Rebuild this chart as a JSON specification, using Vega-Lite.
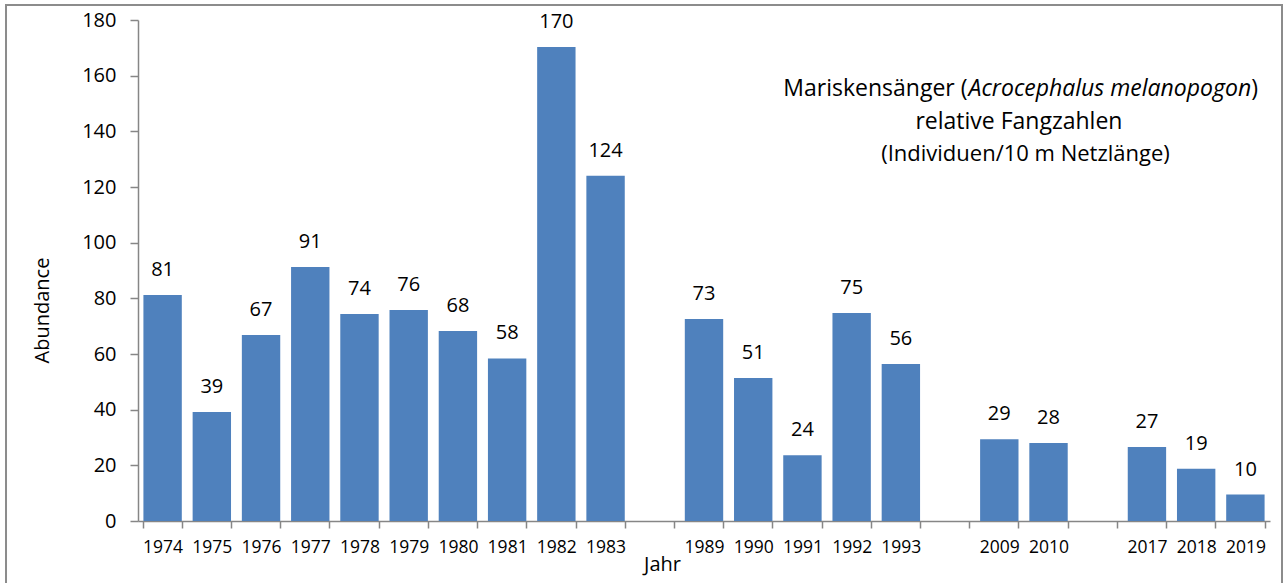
{
  "$schema": "https://vega.github.io/schema/vega-lite/v6.json",
  "width": 1132,
  "height": 501,
  "autosize": {"type": "none"},
  "padding": {"left": 138, "top": 20, "right": 17, "bottom": 62},
  "background": "white",
  "config": {"view": {"stroke": null}, "font": "Open Sans", "text": {"font": "Open Sans"}},
  "datasets": {
    "bars": [
      {"Jahr": "1974", "Abundance": 81.2},
      {"Jahr": "1975", "Abundance": 39.2},
      {"Jahr": "1976", "Abundance": 66.8},
      {"Jahr": "1977", "Abundance": 91.3},
      {"Jahr": "1978", "Abundance": 74.4},
      {"Jahr": "1979", "Abundance": 75.8},
      {"Jahr": "1980", "Abundance": 68.3},
      {"Jahr": "1981", "Abundance": 58.4},
      {"Jahr": "1982", "Abundance": 170.3},
      {"Jahr": "1983", "Abundance": 124.0},
      {"Jahr": "1989", "Abundance": 72.6},
      {"Jahr": "1990", "Abundance": 51.4},
      {"Jahr": "1991", "Abundance": 23.6},
      {"Jahr": "1992", "Abundance": 74.7},
      {"Jahr": "1993", "Abundance": 56.4},
      {"Jahr": "2009", "Abundance": 29.4},
      {"Jahr": "2010", "Abundance": 28.0},
      {"Jahr": "2017", "Abundance": 26.6},
      {"Jahr": "2018", "Abundance": 18.8},
      {"Jahr": "2019", "Abundance": 9.5}
    ],
    "frame": [{"x0": -0.1166, "x1": 1.0106, "y0": 185.4, "y1": -40}],
    "titel": [
      {"t": "Mariskensänger (", "x": 0.7328, "y": 152.7, "s": "r"},
      {"t": "Acrocephalus melanopogon", "x": 0.7337, "y": 152.7, "s": "i"},
      {"t": ")", "x": 0.9835, "y": 152.7, "s": "l"},
      {"t": "relative Fangzahlen", "x": 0.7782, "y": 140.8, "s": "c"},
      {"t": "(Individuen/10 m Netzlänge)", "x": 0.784, "y": 129.3, "s": "c3"}
    ]
  },
  "layer": [
    {
      "data": {"name": "frame"},
      "mark": {"type": "rect", "fill": null, "stroke": "#8c8c8c", "strokeWidth": 2, "clip": false},
      "encoding": {
        "x": {"field": "x0", "type": "quantitative", "scale": {"domain": [0, 1], "nice": false, "zero": false}, "axis": null},
        "x2": {"field": "x1"},
        "y": {"field": "y0", "type": "quantitative", "scale": {"domain": [0, 180], "nice": false}, "axis": null},
        "y2": {"field": "y1"}
      }
    },
    {
      "data": {"name": "bars"},
      "layer": [
        {
          "mark": {"type": "bar", "color": "#4F81BD"},
          "encoding": {
            "x": {
              "field": "Jahr",
              "type": "nominal",
              "sort": null,
              "scale": {
                "domain": ["1974","1975","1976","1977","1978","1979","1980","1981","1982","1983"," ","1989","1990","1991","1992","1993","  ","2009","2010","   ","2017","2018","2019"],
                "paddingInner": 0.22,
                "paddingOuter": 0.11
              },
              "axis": {
                "title": "Jahr",
                "labelAngle": 0,
                "labelFontSize": 17.5,
                "labelColor": "#000000",
                "labelPadding": 10,
                "tickBand": "extent",
                "tickSize": 7,
                "tickColor": "#868686",
                "domainColor": "#868686",
                "domainWidth": 1.5,
                "tickWidth": 1.5,
                "titleFontSize": 20,
                "titleFontWeight": "normal",
                "titleColor": "#000000",
                "titleX": 524,
                "titleY": 43,
                "titleAlign": "center",
                "titleBaseline": "middle"
              }
            },
            "y": {
              "field": "Abundance",
              "type": "quantitative",
              "scale": {"domain": [0, 180], "nice": false},
              "axis": {
                "values": [0, 20, 40, 60, 80, 100, 120, 140, 160, 180],
                "grid": false,
                "title": "Abundance",
                "labelFontSize": 20,
                "labelColor": "#000000",
                "labelPadding": 14,
                "tickSize": 8,
                "tickColor": "#868686",
                "domainColor": "#868686",
                "domainWidth": 1.5,
                "tickWidth": 1.5,
                "titleFontSize": 20,
                "titleFontWeight": "normal",
                "titleColor": "#000000",
                "titleX": -96,
                "titleY": 290,
                "titleAlign": "center",
                "titleBaseline": "middle",
                "titleAngle": -90
              }
            }
          }
        },
        {
          "mark": {"type": "text", "fontSize": 20, "color": "#000000", "baseline": "alphabetic", "dy": -19},
          "encoding": {
            "x": {"field": "Jahr", "type": "nominal", "sort": null},
            "y": {"field": "Abundance", "type": "quantitative"},
            "text": {"field": "Abundance", "type": "quantitative", "format": ".0f"}
          }
        }
      ]
    },
    {
      "data": {"name": "titel"},
      "transform": [{"filter": "datum.s === 'r'"}],
      "mark": {"type": "text", "fontSize": 23, "align": "right", "baseline": "alphabetic", "color": "#000000"},
      "encoding": {
        "x": {"field": "x", "type": "quantitative", "scale": {"domain": [0, 1], "nice": false, "zero": false}, "axis": null},
        "y": {"field": "y", "type": "quantitative", "scale": {"domain": [0, 180], "nice": false}, "axis": null},
        "text": {"field": "t"}
      }
    },
    {
      "data": {"name": "titel"},
      "transform": [{"filter": "datum.s === 'i'"}],
      "mark": {"type": "text", "fontSize": 23, "fontStyle": "italic", "align": "left", "baseline": "alphabetic", "color": "#000000"},
      "encoding": {
        "x": {"field": "x", "type": "quantitative", "scale": {"domain": [0, 1], "nice": false, "zero": false}, "axis": null},
        "y": {"field": "y", "type": "quantitative", "scale": {"domain": [0, 180], "nice": false}, "axis": null},
        "text": {"field": "t"}
      }
    },
    {
      "data": {"name": "titel"},
      "transform": [{"filter": "datum.s === 'l'"}],
      "mark": {"type": "text", "fontSize": 23, "align": "left", "baseline": "alphabetic", "color": "#000000"},
      "encoding": {
        "x": {"field": "x", "type": "quantitative", "scale": {"domain": [0, 1], "nice": false, "zero": false}, "axis": null},
        "y": {"field": "y", "type": "quantitative", "scale": {"domain": [0, 180], "nice": false}, "axis": null},
        "text": {"field": "t"}
      }
    },
    {
      "data": {"name": "titel"},
      "transform": [{"filter": "datum.s === 'c'"}],
      "mark": {"type": "text", "fontSize": 23, "align": "center", "baseline": "alphabetic", "color": "#000000"},
      "encoding": {
        "x": {"field": "x", "type": "quantitative", "scale": {"domain": [0, 1], "nice": false, "zero": false}, "axis": null},
        "y": {"field": "y", "type": "quantitative", "scale": {"domain": [0, 180], "nice": false}, "axis": null},
        "text": {"field": "t"}
      }
    },
    {
      "data": {"name": "titel"},
      "transform": [{"filter": "datum.s === 'c3'"}],
      "mark": {"type": "text", "fontSize": 22, "align": "center", "baseline": "alphabetic", "color": "#000000"},
      "encoding": {
        "x": {"field": "x", "type": "quantitative", "scale": {"domain": [0, 1], "nice": false, "zero": false}, "axis": null},
        "y": {"field": "y", "type": "quantitative", "scale": {"domain": [0, 180], "nice": false}, "axis": null},
        "text": {"field": "t"}
      }
    }
  ],
  "resolve": {"scale": {"x": "independent", "y": "independent"}}
}
